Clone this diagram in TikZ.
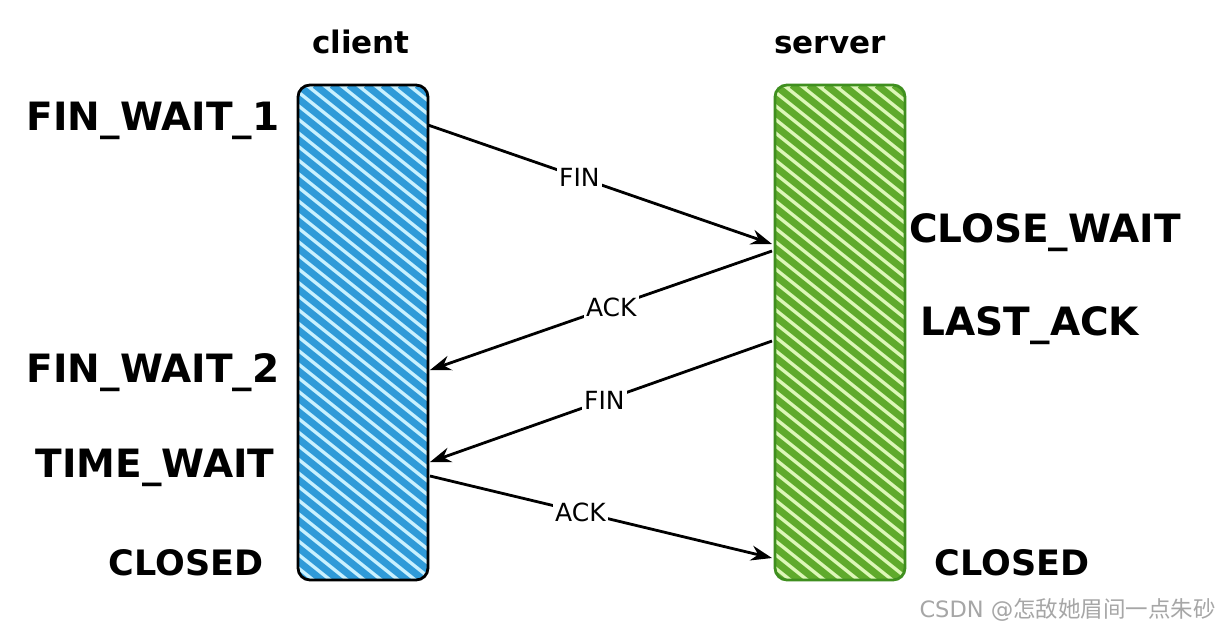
\documentclass[tikz,border=0pt]{standalone}
\usepackage{fontspec}
\setmainfont{DejaVu Sans}
\newfontfamily\cjk{Noto Sans CJK SC}
\usetikzlibrary{arrows.meta}
\definecolor{cblue}{HTML}{2F9AD8}
\definecolor{cbluebg}{HTML}{C9F1FF}
\definecolor{cgreen}{HTML}{5FAA2C}
\definecolor{cgreenbg}{HTML}{DDF7B8}
\definecolor{cgreenline}{HTML}{3F8F1F}
\tikzset{
  state/.style={font=\fontsize{39}{44}\selectfont\bfseries, inner sep=0pt},
  closedstate/.style={font=\fontsize{35}{40}\selectfont\bfseries, inner sep=0pt},
  head/.style={font=\fontsize{31}{36}\selectfont\bfseries, inner sep=0pt, anchor=base},
  msg/.style={-{Stealth[length=21pt,width=15pt]}, line width=2.8pt},
  msglabel/.style={font=\fontsize{25}{29}\selectfont, fill=white, inner sep=2pt},
  hatch/.style={line width=7pt},
}
\begin{document}
\begin{tikzpicture}[x=1pt,y=-1pt]
\useasboundingbox (0,0) rectangle (1222,630);
\fill[white] (0,0) rectangle (1222,630);
% client bar
\begin{scope}
\clip[rounded corners=12pt] (298,85) rectangle (428,580);
\fill[cbluebg] (298,85) rectangle (428,580);
\foreach \i in {-680,-663,...,140} \draw[cblue, hatch] (298+\i,85) -- ++(700,560);
\end{scope}
\node[draw=black, line width=2.8pt, rounded corners=12pt, minimum width=130pt, minimum height=495pt, inner sep=0pt] (client) at (363,332.5) {};
% server bar
\begin{scope}
\clip[rounded corners=12pt] (775,85) rectangle (905,580);
\fill[cgreenbg] (775,85) rectangle (905,580);
\foreach \i in {-680,-663,...,140} \draw[cgreen, hatch] (775+\i,85) -- ++(700,560);
\end{scope}
\node[draw=cgreenline, line width=2.8pt, rounded corners=12pt, minimum width=130pt, minimum height=495pt, inner sep=0pt] (server) at (840,332.5) {};
% headers
\node[head] (hc) at (361,53) {client};
\node[head] (hs) at (830,53) {server};
% states
\node[state] (s1) at (153,121) {FIN\_WAIT\_1};
\node[state] (s2) at (153,373) {FIN\_WAIT\_2};
\node[state] (s3) at (155,468) {TIME\_WAIT};
\node[closedstate] (s4) at (186,563) {CLOSED};
\node[state] (r1) at (1045,233) {CLOSE\_WAIT};
\node[state] (r2) at (1030,326) {LAST\_ACK};
\node[closedstate] (r3) at (1012,563) {CLOSED};
% anchor points
\coordinate (a1) at (428,125);
\coordinate (b1) at (772,244);
\coordinate (a2) at (772,251);
\coordinate (b2) at (430,370);
\coordinate (a3) at (772,341);
\coordinate (b3) at (430,462);
\coordinate (a4) at (430,476);
\coordinate (b4) at (772,558);
\draw[msg] (a1) -- node[msglabel, pos=0.44] {FIN} (b1);
\draw[msg] (a2) -- node[msglabel, pos=0.47] {ACK} (b2);
\draw[msg] (a3) -- node[msglabel, pos=0.49] {FIN} (b3);
\draw[msg] (a4) -- node[msglabel, pos=0.44] {ACK} (b4);
% watermark
\node[font=\fontsize{22.5}{26}\selectfont, text=black!35, anchor=east, inner sep=0pt] (wm) at (1216,610) {CSDN @{\cjk 怎敌她眉间一点朱砂}};
\end{tikzpicture}
\end{document}
